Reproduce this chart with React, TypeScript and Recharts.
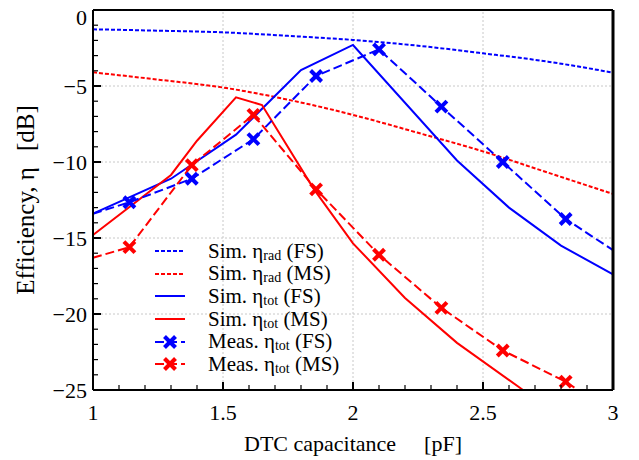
import React from 'react';
import { LineChart, Line, XAxis, YAxis, ReferenceLine, Legend, Label } from 'recharts';

const FONT = '"Liberation Serif", "Times New Roman", serif';

// tick positions (major every 0.5 pF / 5 dB, minor every 0.1 pF / 1 dB)
const X_TICKS = [1.0, 1.1, 1.2, 1.3, 1.4, 1.5, 1.6, 1.7, 1.8, 1.9, 2.0, 2.1, 2.2, 2.3, 2.4, 2.5, 2.6, 2.7, 2.8, 2.9, 3.0];
const Y_TICKS = [0, -1, -2, -3, -4, -5, -6, -7, -8, -9, -10, -11, -12, -13, -14, -15, -16, -17, -18, -19, -20, -21, -22, -23, -24, -25];
const X_GRID = [1.5, 2, 2.5];
const Y_GRID = [-5, -10, -15, -20];

// simulated radiation efficiency
const SIM_RAD_FS = [
  { x: 1.0, y: -1.27 }, { x: 1.25, y: -1.36 }, { x: 1.5, y: -1.47 }, { x: 1.75, y: -1.7 },
  { x: 2.0, y: -1.97 }, { x: 2.25, y: -2.35 }, { x: 2.5, y: -2.85 }, { x: 2.75, y: -3.4 }, { x: 3.0, y: -4.12 },
];
const SIM_RAD_MS = [
  { x: 1.0, y: -4.1 }, { x: 1.25, y: -4.58 }, { x: 1.5, y: -5.1 }, { x: 1.75, y: -5.9 },
  { x: 2.0, y: -6.9 }, { x: 2.25, y: -8.08 }, { x: 2.5, y: -9.3 }, { x: 2.75, y: -10.7 }, { x: 3.0, y: -12.1 },
];

// simulated total efficiency
const SIM_TOT_FS = [
  { x: 1.0, y: -13.4 }, { x: 1.3, y: -11.1 }, { x: 1.55, y: -8.2 }, { x: 1.8, y: -3.95 },
  { x: 2.0, y: -2.3 }, { x: 2.4, y: -9.9 }, { x: 2.6, y: -13.0 }, { x: 2.8, y: -15.5 }, { x: 3.0, y: -17.4 },
];
const SIM_TOT_MS = [
  { x: 1.0, y: -14.8 }, { x: 1.3, y: -10.85 }, { x: 1.4, y: -8.6 }, { x: 1.55, y: -5.75 },
  { x: 1.65, y: -6.25 }, { x: 1.85, y: -11.8 }, { x: 2.0, y: -15.35 }, { x: 2.2, y: -18.95 },
  { x: 2.4, y: -21.9 }, { x: 2.654, y: -25 },
];

// measured total efficiency (m = draw a marker)
const MEAS_FS = [
  { x: 1.0, y: -13.4, m: false }, { x: 1.14, y: -12.65, m: true }, { x: 1.38, y: -11.1, m: true },
  { x: 1.617, y: -8.5, m: true }, { x: 1.858, y: -4.34, m: true }, { x: 2.1, y: -2.59, m: true },
  { x: 2.34, y: -6.36, m: true }, { x: 2.576, y: -10.0, m: true }, { x: 2.818, y: -13.75, m: true },
  { x: 3.0, y: -15.8, m: false },
];
const MEAS_MS = [
  { x: 1.0, y: -16.3, m: false }, { x: 1.14, y: -15.6, m: true }, { x: 1.38, y: -10.2, m: true },
  { x: 1.617, y: -6.9, m: true }, { x: 1.858, y: -11.8, m: true }, { x: 2.1, y: -16.1, m: true },
  { x: 2.34, y: -19.6, m: true }, { x: 2.576, y: -22.4, m: true }, { x: 2.818, y: -24.45, m: true },
  { x: 2.865, y: -25, m: false },
];

const BLUE = '#0000ff';
const RED = '#ff0000';

const LEGEND_ROWS = [
  { color: BLUE, dash: '4 2', mark: false, pre: 'Sim. ', sub: 'rad', post: ' (FS)' },
  { color: RED, dash: '4 2', mark: false, pre: 'Sim. ', sub: 'rad', post: ' (MS)' },
  { color: BLUE, dash: undefined, mark: false, pre: 'Sim. ', sub: 'tot', post: ' (FS)' },
  { color: RED, dash: undefined, mark: false, pre: 'Sim. ', sub: 'tot', post: ' (MS)' },
  { color: BLUE, dash: '9 4', mark: true, pre: 'Meas. ', sub: 'tot', post: ' (FS)' },
  { color: RED, dash: '9 4', mark: true, pre: 'Meas. ', sub: 'tot', post: ' (MS)' },
];

const isMajor = (v: number, step: number) => Math.abs(v / step - Math.round(v / step)) < 1e-6;
const fmt = (v: number) => (v < 0 ? '\u2212' + Math.abs(v) : String(+v.toFixed(1)));

function XMark({ cx, cy, color }: { cx: number; cy: number; color: string }) {
  const h = 5.5;
  return (
    <g stroke={color} strokeWidth={4} strokeLinecap="butt">
      <line x1={cx - h} y1={cy - h} x2={cx + h} y2={cy + h} />
      <line x1={cx - h} y1={cy + h} x2={cx + h} y2={cy - h} />
    </g>
  );
}

const measDot = (color: string) => (p: any) =>
  p.payload.m ? <XMark key={p.index} cx={p.cx} cy={p.cy} color={color} /> : <g key={p.index} />;

function BottomTick({ x, y, payload }: any) {
  const major = isMajor(payload.value, 0.5);
  return (
    <g>
      <line x1={x} x2={x} y1={y} y2={y - (major ? 8 : 5)} stroke="#000" strokeWidth={major ? 2 : 1.2} />
      {major && (
        <text x={x} y={y + 30} textAnchor="middle" fontSize={22} fontFamily={FONT} fill="#000">
          {fmt(payload.value)}
        </text>
      )}
    </g>
  );
}

function TopTick({ x, y, payload }: any) {
  const major = isMajor(payload.value, 0.5);
  return <line x1={x} x2={x} y1={y} y2={y + (major ? 8 : 5)} stroke="#000" strokeWidth={major ? 2 : 1.2} />;
}

function LeftTick({ x, y, payload }: any) {
  const major = isMajor(payload.value, 5);
  return (
    <g>
      <line x1={x} x2={x + (major ? 8 : 5)} y1={y} y2={y} stroke="#000" strokeWidth={major ? 2 : 1.2} />
      {major && (
        <text x={x - 6} y={Math.max(y + 8, 25)} textAnchor="end" fontSize={22} fontFamily={FONT} fill="#000">
          {fmt(payload.value)}
        </text>
      )}
    </g>
  );
}

function RightTick({ x, y, payload }: any) {
  const major = isMajor(payload.value, 5);
  return <line x1={x} x2={x - (major ? 8 : 5)} y1={y} y2={y} stroke="#000" strokeWidth={major ? 2.5 : 1.5} />;
}

function LegendBox() {
  return (
    <div style={{ fontFamily: FONT, fontSize: 21, color: '#000' }}>
      {LEGEND_ROWS.map((r, i) => (
        <div key={i} style={{ display: 'flex', alignItems: 'center', height: 22.6, whiteSpace: 'pre' }}>
          <svg width={32} height={16} style={{ marginRight: 22 }}>
            <line x1={1} x2={31} y1={8} y2={8} stroke={r.color} strokeWidth={2} strokeDasharray={r.dash} />
            {r.mark && <XMark cx={16} cy={8} color={r.color} />}
          </svg>
          <span>
            {r.pre}η<span style={{ fontSize: 14, position: 'relative', top: 2 }}>{r.sub}</span>{r.post}
          </span>
        </div>
      ))}
    </div>
  );
}

export default function App() {
  return (
    <div style={{ position: 'absolute', left: 0, top: 0, background: '#fff' }}>
      <LineChart width={639} height={460} margin={{ top: 9, right: 25, bottom: 69, left: 92 }}>
        <XAxis xAxisId="b" type="number" dataKey="x" domain={[1, 3]} ticks={X_TICKS} interval={0}
          height={1} tickSize={0} tickMargin={0} tickLine={false} axisLine={{ stroke: '#000', strokeWidth: 2 }} tick={<BottomTick />}>
          <Label content={({ viewBox }: any) => (
            <text x={viewBox.x + viewBox.width / 2} y={viewBox.y + 61} textAnchor="middle"
              fontSize={22} fontFamily={FONT} fill="#000">
              <tspan>DTC capacitance</tspan>
              <tspan dx={28}>[pF]</tspan>
            </text>
          )} />
        </XAxis>
        <XAxis xAxisId="t" orientation="top" type="number" dataKey="x" domain={[1, 3]} ticks={X_TICKS} interval={0}
          height={1} tickSize={0} tickMargin={0} tickLine={false} axisLine={{ stroke: '#000', strokeWidth: 2 }} tick={<TopTick />} />
        <YAxis yAxisId="l" type="number" domain={[-25, 0]} ticks={Y_TICKS} interval={0}
          width={1} tickSize={0} tickMargin={0} tickLine={false} axisLine={{ stroke: '#000', strokeWidth: 2 }} tick={<LeftTick />}>
          <Label content={({ viewBox }: any) => {
            const cx = 34;
            const cy = viewBox.y + viewBox.height / 2;
            return (
              <text x={cx} y={cy} transform={`rotate(-90 ${cx} ${cy})`} textAnchor="middle"
                fontSize={25} fontFamily={FONT} fill="#000">
                <tspan>Efficiency, η</tspan>
                <tspan dx={16}>[dB]</tspan>
              </text>
            );
          }} />
        </YAxis>
        <YAxis yAxisId="r" orientation="right" type="number" domain={[-25, 0]} ticks={Y_TICKS} interval={0}
          width={1} tickSize={0} tickMargin={0} tickLine={false} axisLine={{ stroke: '#000', strokeWidth: 3 }} tick={<RightTick />} />

        {X_GRID.map((v) => (
          <ReferenceLine key={'gx' + v} xAxisId="b" yAxisId="l" x={v} stroke="#c8c8c8" strokeDasharray="2 2" strokeWidth={1} />
        ))}
        {Y_GRID.map((v) => (
          <ReferenceLine key={'gy' + v} xAxisId="b" yAxisId="l" y={v} stroke="#c8c8c8" strokeDasharray="2 2" strokeWidth={1} />
        ))}

        <Line xAxisId="b" yAxisId="l" data={SIM_RAD_FS} dataKey="y" type="monotone" stroke={BLUE} strokeWidth={2}
          strokeDasharray="4 2" dot={false} isAnimationActive={false} legendType="none" />
        <Line xAxisId="b" yAxisId="l" data={SIM_RAD_MS} dataKey="y" type="monotone" stroke={RED} strokeWidth={2}
          strokeDasharray="4 2" dot={false} isAnimationActive={false} legendType="none" />
        <Line xAxisId="b" yAxisId="l" data={SIM_TOT_FS} dataKey="y" type="linear" stroke={BLUE} strokeWidth={2}
          dot={false} isAnimationActive={false} legendType="none" />
        <Line xAxisId="b" yAxisId="l" data={SIM_TOT_MS} dataKey="y" type="linear" stroke={RED} strokeWidth={2}
          dot={false} isAnimationActive={false} legendType="none" />
        <Line xAxisId="b" yAxisId="l" data={MEAS_FS} dataKey="y" type="linear" stroke={BLUE} strokeWidth={2}
          strokeDasharray="9 4" dot={measDot(BLUE)} activeDot={false} isAnimationActive={false} legendType="none" />
        <Line xAxisId="b" yAxisId="l" data={MEAS_MS} dataKey="y" type="linear" stroke={RED} strokeWidth={2}
          strokeDasharray="9 4" dot={measDot(RED)} activeDot={false} isAnimationActive={false} legendType="none" />

        <Legend layout="horizontal" verticalAlign="middle" align="center" content={<LegendBox />}
          wrapperStyle={{ left: 154, top: 240, width: 260 }} />
      </LineChart>
    </div>
  );
}
